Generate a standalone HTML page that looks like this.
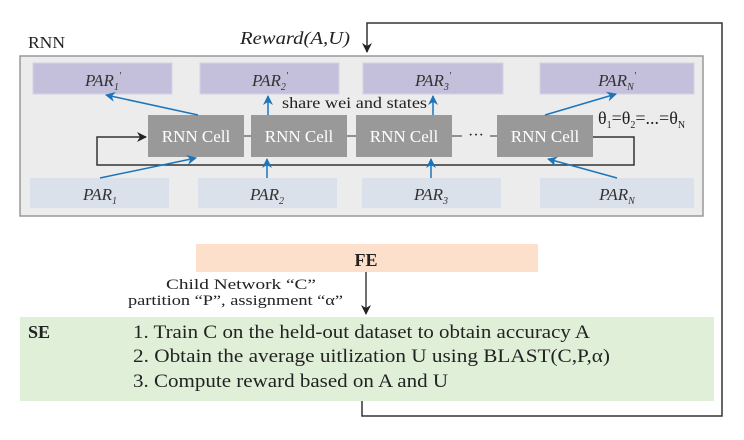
<!DOCTYPE html>
<html><head><meta charset="utf-8"><style>
body{margin:0;width:744px;height:435px;background:#fff;overflow:hidden}
svg{font-family:"Liberation Serif",serif}
</style></head><body>
<svg width="744" height="435" viewBox="0 0 744 435" xmlns="http://www.w3.org/2000/svg">
<defs>
<marker id="ak" markerWidth="10" markerHeight="10" refX="9" refY="5" orient="auto" markerUnits="userSpaceOnUse"><path d="M0,0 L10,5 L0,10 L3,5 z" fill="#222"/></marker>
<marker id="ab" markerWidth="10" markerHeight="10" refX="9" refY="5" orient="auto" markerUnits="userSpaceOnUse"><path d="M0,0 L10,5 L0,10 L3,5 z" fill="#1b75bb"/></marker>
</defs>
<text x="28" y="48" font-size="17" fill="#222" textLength="37" lengthAdjust="spacingAndGlyphs">RNN</text>
<text x="240" y="44" font-size="18" font-style="italic" fill="#222" textLength="110" lengthAdjust="spacingAndGlyphs">Reward(A,U)</text>
<rect x="20" y="56" width="683" height="160" fill="#ececec" stroke="#999" stroke-width="1.5"/>
<g fill="#c4c0dc" stroke="#d4d2e4">
<rect x="33" y="63" width="139" height="31"/><rect x="200" y="63" width="139" height="31"/>
<rect x="363" y="63" width="140" height="31"/><rect x="540" y="63" width="154" height="31"/>
</g>
<g fill="#dae1ea">
<rect x="30" y="178" width="139" height="30"/><rect x="198" y="178" width="139" height="30"/>
<rect x="362" y="178" width="139" height="30"/><rect x="540" y="178" width="154" height="30"/>
</g>
<g font-size="17" font-style="italic" fill="#333" text-anchor="middle">
<text x="103" y="86">PAR<tspan font-size="10" dy="4">1</tspan><tspan font-size="10" dy="-11">'</tspan></text>
<text x="270" y="86">PAR<tspan font-size="10" dy="4">2</tspan><tspan font-size="10" dy="-11">'</tspan></text>
<text x="433" y="86">PAR<tspan font-size="10" dy="4">3</tspan><tspan font-size="10" dy="-11">'</tspan></text>
<text x="617" y="86">PAR<tspan font-size="10" dy="4">N</tspan><tspan font-size="10" dy="-11">'</tspan></text>
<text x="100" y="200">PAR<tspan font-size="10" dy="4">1</tspan></text>
<text x="267" y="200">PAR<tspan font-size="10" dy="4">2</tspan></text>
<text x="431" y="200">PAR<tspan font-size="10" dy="4">3</tspan></text>
<text x="617" y="200">PAR<tspan font-size="10" dy="4">N</tspan></text>
</g>
<text x="282" y="108" font-size="16" fill="#222" textLength="145" lengthAdjust="spacingAndGlyphs">share wei and states</text>
<text x="598" y="124" font-size="18" fill="#222">θ<tspan font-size="10" dy="4">1</tspan><tspan dy="-4">=θ</tspan><tspan font-size="10" dy="4">2</tspan><tspan dy="-4">=...=θ</tspan><tspan font-size="10" dy="4">N</tspan></text>
<line x1="244" y1="136" x2="251" y2="136" stroke="#333"/>
<line x1="347" y1="136" x2="356" y2="136" stroke="#333"/>
<line x1="452" y1="136" x2="462" y2="136" stroke="#333"/>
<line x1="490" y1="136" x2="497" y2="136" stroke="#333"/>
<text x="476" y="140" font-size="16" text-anchor="middle" fill="#222">···</text>
<path d="M593,137 H634 V165 H97 V137 H146" fill="none" stroke="#333" stroke-width="1.5" marker-end="url(#ak)"/>
<g fill="#999"><rect x="148" y="115" width="96" height="42"/><rect x="251" y="115" width="96" height="42"/>
<rect x="356" y="115" width="96" height="42"/><rect x="497" y="115" width="96" height="42"/></g>
<g font-size="17" fill="#fff" text-anchor="middle">
<text x="196" y="142">RNN Cell</text><text x="299" y="142">RNN Cell</text>
<text x="404" y="142">RNN Cell</text><text x="545" y="142">RNN Cell</text></g>
<g stroke="#1b75bb" stroke-width="1.5" fill="none">
<line x1="198" y1="115" x2="106" y2="95" marker-end="url(#ab)"/>
<line x1="268" y1="115" x2="268" y2="96" marker-end="url(#ab)"/>
<line x1="433" y1="115" x2="433" y2="96" marker-end="url(#ab)"/>
<line x1="545" y1="115" x2="616" y2="94" marker-end="url(#ab)"/>
<line x1="100" y1="178" x2="196" y2="158" marker-end="url(#ab)"/>
<line x1="267" y1="178" x2="267" y2="159" marker-end="url(#ab)"/>
<line x1="431" y1="178" x2="431" y2="159" marker-end="url(#ab)"/>
<line x1="617" y1="178" x2="548" y2="159" marker-end="url(#ab)"/>
</g>
<rect x="196" y="244" width="342" height="28" fill="#fde0cc"/>
<text x="366" y="266" font-size="18" font-weight="bold" text-anchor="middle" fill="#222">FE</text>
<text x="166" y="289" font-size="15" fill="#222" textLength="150" lengthAdjust="spacingAndGlyphs">Child Network “C”</text>
<text x="128" y="305" font-size="15" fill="#222" textLength="215" lengthAdjust="spacingAndGlyphs">partition “P”, assignment “α”</text>
<line x1="366" y1="272" x2="366" y2="314" stroke="#222" stroke-width="1.3" marker-end="url(#ak)"/>
<rect x="20" y="317" width="694" height="84" fill="#e0efd8"/>
<text x="28" y="338" font-size="18" font-weight="bold" fill="#222">SE</text>
<g font-size="19" fill="#222">
<text x="133" y="338" textLength="457" lengthAdjust="spacingAndGlyphs">1. Train C on the held-out dataset to obtain accuracy A</text>
<text x="133" y="362" textLength="477" lengthAdjust="spacingAndGlyphs">2. Obtain the average uitlization U using BLAST(C,P,α)</text>
<text x="133" y="387" textLength="315" lengthAdjust="spacingAndGlyphs">3. Compute reward based on A and U</text></g>
<path d="M362,401 V416 H722 V23 H367 V52" fill="none" stroke="#333" stroke-width="1.5" marker-end="url(#ak)"/>
</svg>
</body></html>
